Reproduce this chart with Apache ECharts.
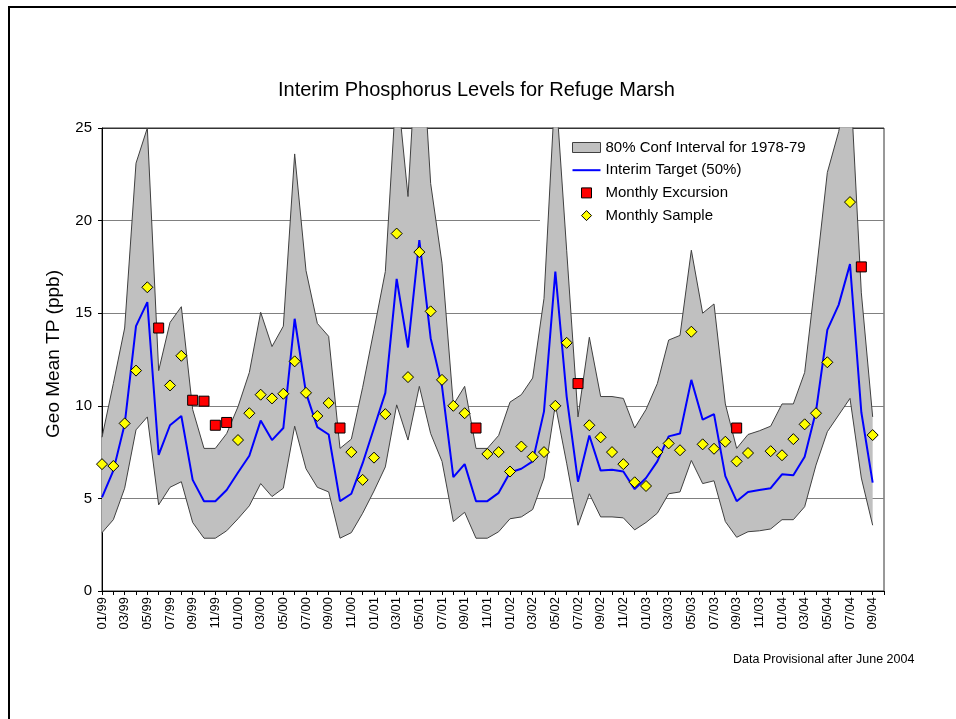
<!DOCTYPE html>
<html>
<head>
<meta charset="utf-8">
<title>Interim Phosphorus Levels for Refuge Marsh</title>
<script src="https://cdn.jsdelivr.net/npm/echarts/dist/echarts.min.js"></script>
<style>
  html, body { margin: 0; padding: 0; background: #fff; }
  #chart { width: 956px; height: 719px; }
</style>
</head>
<body>
<div id="chart"></div>
<script>
// month labels, 01/99 .. 10/04
const months = [
  '01/99', '02/99', '03/99', '04/99', '05/99', '06/99', '07/99', '08/99', '09/99', '10/99', '11/99', '12/99',
  '01/00', '02/00', '03/00', '04/00', '05/00', '06/00', '07/00', '08/00', '09/00', '10/00', '11/00', '12/00',
  '01/01', '02/01', '03/01', '04/01', '05/01', '06/01', '07/01', '08/01', '09/01', '10/01', '11/01', '12/01',
  '01/02', '02/02', '03/02', '04/02', '05/02', '06/02', '07/02', '08/02', '09/02', '10/02', '11/02', '12/02',
  '01/03', '02/03', '03/03', '04/03', '05/03', '06/03', '07/03', '08/03', '09/03', '10/03', '11/03', '12/03',
  '01/04', '02/04', '03/04', '04/04', '05/04', '06/04', '07/04', '08/04', '09/04', '10/04'
]

// 80% confidence interval (1978-79), lower and upper edge
const bandLower = [
  3.15, 3.85, 5.55, 8.7, 9.4, 4.65, 5.6, 5.9, 3.7, 2.85,
  2.85, 3.25, 3.9, 4.6, 5.8, 5.1, 5.55, 8.9, 6.6, 5.6,
  5.35, 2.85, 3.15, 4.2, 5.4, 6.7, 10.05, 8.15, 11.05, 8.5,
  7.0, 3.75, 4.25, 2.85, 2.85, 3.2, 3.9, 4.0, 4.4, 6.1,
  10.05, 6.9, 3.55, 5.25, 4.0, 4.0, 3.95, 3.3, 3.7, 4.2,
  5.25, 5.35, 7.05, 5.8, 5.95, 3.75, 2.9, 3.2, 3.25, 3.35,
  3.85, 3.85, 4.55, 6.8, 8.6, 9.5, 10.4, 6.1, 3.55
]
const bandUpper = [
  8.3, 11.2, 14.2, 23.1, 25.0, 11.9, 14.5, 15.35, 9.8, 7.7,
  7.7, 8.5, 9.95, 11.8, 15.05, 13.2, 14.3, 23.6, 17.3, 14.45,
  13.75, 7.7, 8.2, 11.0, 14.1, 17.25, 27.5, 21.3, 32.0, 22.0,
  17.7, 10.05, 11.05, 7.7, 7.7, 8.4, 10.2, 10.6, 11.5, 15.8,
  27.4, 18.4, 9.4, 13.7, 10.5, 10.5, 10.4, 8.8, 9.8, 11.2,
  13.55, 13.8, 18.4, 15.0, 15.5, 10.1, 7.7, 8.45, 8.65, 8.9,
  10.1, 10.1, 11.8, 17.1, 22.6, 24.8, 28.0, 16.1, 9.4
]

// interim target (50%)
const target = [
  5.05, 6.5, 9.0, 14.3, 15.6, 7.35, 8.95, 9.45, 6.0, 4.85,
  4.85, 5.45, 6.4, 7.3, 9.2, 8.15, 8.8, 14.7, 10.7, 8.85,
  8.45, 4.85, 5.25, 6.9, 8.8, 10.7, 16.85, 13.15, 18.95, 13.65,
  11.05, 6.15, 6.85, 4.85, 4.85, 5.3, 6.4, 6.6, 7.0, 9.7,
  17.25, 10.5, 5.9, 8.4, 6.5, 6.55, 6.45, 5.5, 6.1, 7.0,
  8.35, 8.5, 11.4, 9.25, 9.55, 6.2, 4.85, 5.35, 5.45, 5.55,
  6.3, 6.25, 7.25, 9.7, 14.1, 15.45, 17.65, 9.65, 5.85
]

// monthly samples ('-' = none)
const samples = [
  6.85, 6.75, 9.05, 11.9, 16.4, '-', 11.1, 12.7, '-', '-',
  '-', '-', 8.15, 9.6, 10.6, 10.4, 10.65, 12.4, 10.7, 9.45,
  10.15, '-', 7.5, 6.0, 7.2, 9.55, 19.3, 11.55, 18.3, 15.1,
  11.4, 10.0, 9.6, '-', 7.4, 7.5, 6.45, 7.8, 7.25, 7.5,
  10.0, 13.4, '-', 8.95, 8.3, 7.5, 6.85, 5.87, 5.67, 7.5,
  7.97, 7.6, 14.0, 7.92, 7.68, 8.06, 7.0, 7.45, '-', 7.55,
  7.33, 8.2, 9.0, 9.6, 12.35, '-', 21.0, '-', 8.42, '-'
]

// monthly excursions
const excursions = [
  '-', '-', '-', '-', '-', 14.2, '-', '-', 10.3, 10.25,
  8.95, 9.1, '-', '-', '-', '-', '-', '-', '-', '-',
  '-', 8.8, '-', '-', '-', '-', '-', '-', '-', '-',
  '-', '-', '-', 8.8, '-', '-', '-', '-', '-', '-',
  '-', '-', 11.2, '-', '-', '-', '-', '-', '-', '-',
  '-', '-', '-', '-', '-', '-', 8.8, '-', '-', '-',
  '-', '-', '-', '-', '-', '-', '-', 17.5, '-', '-'
]

const yTicks = { min: 0, max: 25, step: 5 }

const font = '"Liberation Sans", Arial, sans-serif'
const bandName = '80% Conf Interval for 1978-79'

// stacked on the lower edge to fill the interval
const bandSpan = bandUpper.map((u, i) => +(u - bandLower[i]).toFixed(2))

const chart = echarts.init(document.getElementById('chart'))

chart.setOption({
  animation: false,
  textStyle: { fontFamily: font },
  title: {
    text: 'Interim Phosphorus Levels for Refuge Marsh',
    left: 278,
    top: 80,
    padding: 0,
    textStyle: { fontSize: 20, fontWeight: 'normal', color: '#000', fontFamily: font }
  },
  legend: {
    orient: 'vertical',
    left: 540,
    top: 132,
    z: 1,
    backgroundColor: '#fff',
    padding: [8, 26, 6, 32],
    itemWidth: 28,
    itemHeight: 10,
    itemGap: 7.7,
    selectedMode: false,
    textStyle: { fontSize: 15, color: '#000', fontFamily: font },
    data: [
      { name: bandName, icon: 'rect', itemStyle: { color: '#c0c0c0', borderColor: '#404040', borderWidth: 1 } },
      { name: 'Interim Target (50%)', icon: 'path://M0,4L28,4L28,6L0,6Z', itemStyle: { color: '#0000ff', borderWidth: 0 } },
      { name: 'Monthly Excursion', icon: 'path://M0,0L10,0L10,10L0,10Z', itemStyle: { color: '#ff0000', borderColor: '#000', borderWidth: 1 } },
      { name: 'Monthly Sample', icon: 'path://M5,0L10,5L5,10L0,5Z', itemStyle: { color: '#ffff00', borderColor: '#000', borderWidth: 1 } }
    ]
  },
  grid: {
    left: 102,
    right: 72,
    top: 128,
    bottom: 128,
    show: true,
    borderColor: '#333',
    borderWidth: 1
  },
  xAxis: {
    type: 'category',
    data: months,
    boundaryGap: false,
    axisLine: { lineStyle: { color: '#000', width: 1 } },
    axisTick: { show: true, interval: 0, length: 4, lineStyle: { color: '#000' } },
    axisLabel: { interval: 1, rotate: 90, fontSize: 13, color: '#000', margin: 6, fontFamily: font },
    splitLine: { show: false }
  },
  yAxis: {
    type: 'value',
    min: yTicks.min,
    max: yTicks.max,
    interval: yTicks.step,
    axisLine: { show: true, lineStyle: { color: '#000', width: 1 } },
    axisTick: { show: true, length: 4, lineStyle: { color: '#000' } },
    axisLabel: { fontSize: 15, color: '#000', margin: 10, fontFamily: font },
    splitLine: {
      lineStyle: { color: ['#808080', '#808080', '#808080', '#808080', '#808080', '#333'], width: 1 }
    }
  },
  graphic: [
    {
      type: 'rect',
      silent: true,
      shape: { x: 9, y: 7, width: 1000, height: 1000 },
      style: { fill: 'transparent', stroke: '#000', lineWidth: 2 }
    },
    {
      type: 'text',
      x: 54,
      y: 354,
      rotation: Math.PI / 2,
      style: { text: 'Geo Mean TP (ppb)', fontSize: 19, fontFamily: font, fill: '#000', align: 'center', verticalAlign: 'middle' }
    },
    {
      type: 'text',
      left: 733,
      top: 653,
      style: { text: 'Data Provisional after June 2004', fontSize: 12.5, fontFamily: font, fill: '#000' }
    }
  ],
  series: [
    {
      name: 'bandBase',
      type: 'line',
      data: bandLower,
      stack: 'band',
      symbol: 'none',
      silent: true,
      lineStyle: { color: '#404040', width: 1 },
      z: 3
    },
    {
      name: bandName,
      type: 'line',
      data: bandSpan,
      stack: 'band',
      symbol: 'none',
      silent: true,
      lineStyle: { color: '#404040', width: 1 },
      itemStyle: { color: '#c0c0c0' },
      areaStyle: { color: '#c0c0c0', opacity: 1 },
      z: 2
    },
    {
      name: 'Interim Target (50%)',
      type: 'line',
      data: target,
      symbol: 'none',
      lineStyle: { color: '#0000ff', width: 2 },
      itemStyle: { color: '#0000ff' },
      z: 4
    },
    {
      name: 'Monthly Excursion',
      type: 'scatter',
      data: excursions,
      symbol: 'rect',
      symbolSize: 10,
      itemStyle: { color: '#ff0000', borderColor: '#000', borderWidth: 1, opacity: 1 },
      z: 5
    },
    {
      name: 'Monthly Sample',
      type: 'scatter',
      data: samples,
      symbol: 'diamond',
      symbolSize: 11,
      itemStyle: { color: '#ffff00', borderColor: '#000', borderWidth: 1, opacity: 1 },
      z: 6
    }
  ]
})
</script>
</body>
</html>
